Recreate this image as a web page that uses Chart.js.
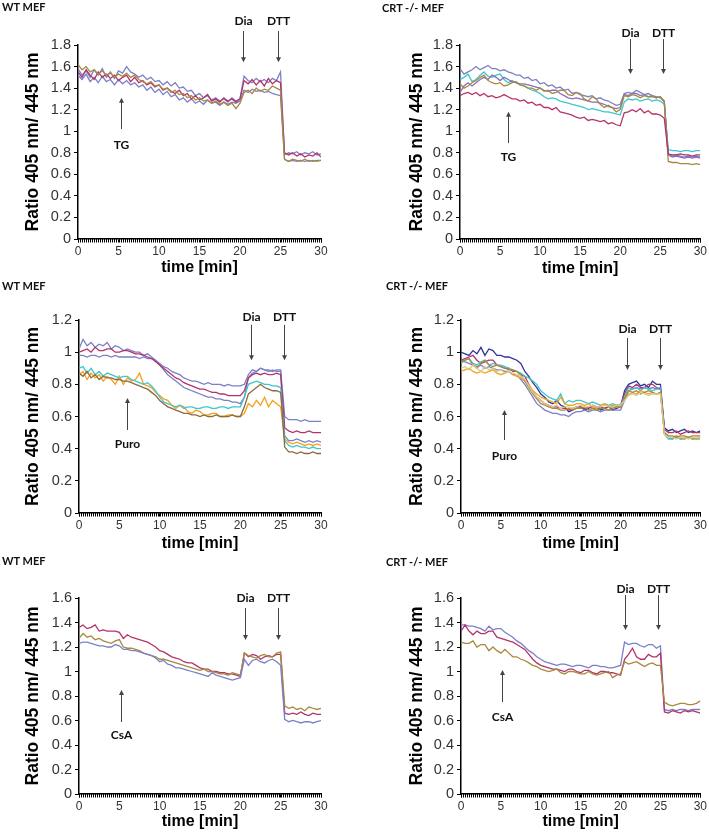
<!DOCTYPE html>
<html><head><meta charset="utf-8">
<script src="https://cdn.jsdelivr.net/npm/chart.js@4.4.1/dist/chart.umd.min.js"></script>
<style>
html,body{margin:0;padding:0;background:#fff}
body{width:709px;height:833px;position:relative;overflow:hidden}
canvas{position:absolute}
.ttl{position:absolute;font:bold 11px Lato,'Open Sans',sans-serif;color:#111;white-space:nowrap;line-height:12px}
</style></head><body>
<script>
// ---- categories (time, min) ----
const times = [0,0.5,1,1.5,2,2.5,3,3.5,4,4.5,5,5.5,6,6.5,7,7.5,8,8.5,9,9.5,10,10.5,11,11.5,12,12.5,13,13.5,14,14.5,15,15.5,16,16.5,17,17.5,18,18.5,19,19.5,20,20.5,21,21.5,22,22.5,23,23.5,24,24.5,25,25.5,26,26.5,27,27.5,28,28.5,29,29.5,30];
const xTickLabels = [0,5,10,15,20,25,30];

// ---- Panel 1: WT MEF, TG ----
const p1_lavA = [1.58,1.52,1.56,1.50,1.57,1.52,1.58,1.50,1.55,1.49,1.56,1.54,1.60,1.55,1.53,1.50,1.52,1.48,1.50,1.46,1.47,1.43,1.46,1.42,1.45,1.40,1.41,1.37,1.38,1.33,1.35,1.31,1.33,1.29,1.31,1.28,1.30,1.27,1.31,1.28,1.30,1.51,1.47,1.45,1.49,1.46,1.48,1.45,1.49,1.47,1.55,0.78,0.80,0.79,0.81,0.78,0.80,0.79,0.81,0.78,0.79];
const p1_lavB = [1.52,1.48,1.53,1.46,1.50,1.45,1.51,1.46,1.48,1.43,1.48,1.44,1.47,1.43,1.45,1.41,1.43,1.38,1.41,1.36,1.39,1.34,1.37,1.32,1.34,1.29,1.31,1.27,1.30,1.26,1.28,1.25,1.29,1.26,1.27,1.24,1.27,1.25,1.27,1.26,1.28,1.38,1.36,1.39,1.37,1.38,1.36,1.37,1.35,1.34,1.33,0.74,0.72,0.73,0.72,0.73,0.72,0.73,0.72,0.73,0.73];
const p1_mag = [1.55,1.50,1.57,1.52,1.48,1.55,1.50,1.53,1.49,1.52,1.47,1.50,1.52,1.46,1.50,1.45,1.47,1.43,1.45,1.41,1.43,1.38,1.40,1.37,1.35,1.38,1.33,1.35,1.30,1.33,1.29,1.31,1.34,1.28,1.30,1.27,1.31,1.28,1.30,1.27,1.30,1.47,1.44,1.48,1.43,1.47,1.42,1.49,1.44,1.47,1.45,0.80,0.78,0.80,0.77,0.79,0.76,0.78,0.77,0.80,0.76];
const p1_olv = [1.62,1.57,1.60,1.55,1.57,1.53,1.56,1.52,1.54,1.50,1.53,1.51,1.54,1.50,1.52,1.48,1.46,1.44,1.46,1.42,1.43,1.39,1.40,1.36,1.38,1.34,1.35,1.31,1.33,1.29,1.31,1.28,1.29,1.26,1.28,1.25,1.27,1.24,1.26,1.21,1.26,1.36,1.38,1.35,1.40,1.37,1.39,1.38,1.42,1.40,1.38,0.74,0.72,0.74,0.73,0.72,0.74,0.72,0.73,0.72,0.73];

// ---- Panel 2: CRT -/- MEF, TG ----
const p2_lav = [1.58,1.53,1.55,1.57,1.60,1.57,1.59,1.61,1.58,1.58,1.56,1.57,1.55,1.54,1.52,1.52,1.49,1.50,1.47,1.48,1.44,1.45,1.42,1.43,1.40,1.41,1.38,1.39,1.35,1.36,1.34,1.33,1.32,1.33,1.30,1.31,1.29,1.28,1.26,1.24,1.25,1.35,1.36,1.35,1.38,1.36,1.34,1.35,1.33,1.32,1.31,1.28,0.78,0.77,0.78,0.77,0.76,0.77,0.76,0.77,0.76];
const p2_cya = [1.48,1.50,1.53,1.46,1.48,1.52,1.55,1.51,1.50,1.52,1.53,1.48,1.45,1.47,1.45,1.43,1.42,1.40,1.38,1.37,1.35,1.32,1.30,1.31,1.30,1.28,1.27,1.26,1.25,1.24,1.23,1.22,1.20,1.21,1.20,1.19,1.18,1.18,1.17,1.16,1.15,1.27,1.30,1.29,1.30,1.28,1.29,1.30,1.28,1.29,1.28,1.25,0.83,0.82,0.82,0.81,0.82,0.82,0.81,0.82,0.82];
const p2_olv = [1.44,1.40,1.42,1.45,1.47,1.50,1.52,1.47,1.45,1.44,1.45,1.42,1.43,1.45,1.46,1.43,1.42,1.40,1.40,1.38,1.40,1.37,1.38,1.35,1.36,1.38,1.38,1.34,1.33,1.36,1.35,1.30,1.28,1.32,1.30,1.25,1.22,1.24,1.22,1.18,1.20,1.33,1.32,1.34,1.33,1.31,1.33,1.32,1.33,1.31,1.32,1.28,0.72,0.71,0.71,0.70,0.70,0.70,0.69,0.70,0.69];
const p2_pur = [1.36,1.42,1.45,1.42,1.45,1.48,1.50,1.48,1.52,1.50,1.47,1.50,1.48,1.46,1.45,1.44,1.44,1.43,1.42,1.41,1.40,1.38,1.37,1.38,1.38,1.35,1.33,1.31,1.30,1.31,1.30,1.29,1.28,1.27,1.27,1.26,1.25,1.23,1.22,1.21,1.22,1.34,1.33,1.35,1.35,1.33,1.34,1.32,1.32,1.31,1.32,1.27,0.78,0.76,0.77,0.76,0.75,0.76,0.75,0.76,0.75];
const p2_mag = [1.33,1.35,1.36,1.34,1.36,1.33,1.35,1.32,1.33,1.31,1.32,1.34,1.32,1.30,1.30,1.28,1.29,1.26,1.27,1.24,1.25,1.22,1.22,1.20,1.22,1.18,1.17,1.16,1.15,1.13,1.12,1.13,1.10,1.11,1.10,1.09,1.10,1.07,1.08,1.06,1.05,1.17,1.18,1.20,1.18,1.21,1.17,1.19,1.16,1.16,1.15,1.12,0.79,0.78,0.78,0.79,0.78,0.78,0.77,0.78,0.78];

// ---- Panel 3: WT MEF, Puro ----
const p3_lav = [0.98,0.98,0.97,0.98,0.98,0.97,0.98,0.98,0.97,0.98,0.97,0.97,0.97,0.97,0.97,0.96,0.97,0.96,0.96,0.95,0.93,0.91,0.90,0.88,0.87,0.86,0.84,0.83,0.82,0.82,0.81,0.80,0.81,0.80,0.80,0.80,0.79,0.80,0.79,0.79,0.79,0.80,0.86,0.89,0.88,0.90,0.89,0.89,0.88,0.89,0.89,0.60,0.58,0.58,0.58,0.57,0.58,0.57,0.57,0.57,0.57];
const p3_pur = [1.02,1.08,1.04,1.06,1.03,1.05,1.04,1.06,1.02,1.04,1.03,1.01,1.02,1.01,1.00,1.00,0.98,0.99,0.97,0.95,0.92,0.89,0.86,0.84,0.82,0.80,0.78,0.77,0.76,0.75,0.74,0.73,0.72,0.72,0.71,0.71,0.70,0.70,0.69,0.69,0.68,0.72,0.84,0.87,0.88,0.90,0.89,0.88,0.89,0.88,0.88,0.48,0.45,0.45,0.46,0.45,0.44,0.45,0.44,0.45,0.44];
const p3_mag = [1.00,1.01,1.02,1.00,1.03,1.01,1.01,1.02,1.02,1.00,1.00,1.01,1.01,1.00,0.99,0.99,0.98,0.97,0.96,0.94,0.92,0.90,0.88,0.86,0.84,0.83,0.81,0.80,0.79,0.78,0.77,0.77,0.76,0.75,0.75,0.74,0.74,0.73,0.73,0.73,0.73,0.76,0.84,0.86,0.87,0.86,0.87,0.86,0.86,0.87,0.86,0.53,0.51,0.50,0.51,0.50,0.50,0.51,0.50,0.50,0.50];
const p3_cya = [0.90,0.91,0.87,0.90,0.86,0.88,0.85,0.87,0.86,0.85,0.84,0.85,0.85,0.83,0.82,0.81,0.80,0.81,0.79,0.76,0.72,0.69,0.68,0.67,0.66,0.67,0.65,0.66,0.66,0.65,0.65,0.66,0.66,0.65,0.65,0.66,0.66,0.65,0.66,0.66,0.66,0.72,0.80,0.81,0.82,0.81,0.80,0.80,0.79,0.79,0.78,0.45,0.42,0.41,0.42,0.41,0.41,0.40,0.41,0.40,0.40];
const p3_brn = [0.87,0.85,0.88,0.84,0.86,0.83,0.85,0.84,0.84,0.83,0.83,0.82,0.82,0.81,0.80,0.79,0.78,0.77,0.75,0.73,0.70,0.68,0.66,0.65,0.64,0.63,0.62,0.62,0.61,0.61,0.60,0.61,0.60,0.60,0.61,0.60,0.60,0.60,0.61,0.60,0.60,0.66,0.74,0.76,0.78,0.80,0.78,0.77,0.76,0.76,0.75,0.41,0.38,0.38,0.37,0.38,0.37,0.37,0.38,0.37,0.37];
const p3_org = [0.86,0.88,0.83,0.87,0.84,0.86,0.82,0.85,0.83,0.80,0.85,0.80,0.84,0.82,0.83,0.87,0.80,0.79,0.78,0.75,0.73,0.71,0.70,0.67,0.65,0.67,0.66,0.63,0.62,0.64,0.63,0.61,0.61,0.62,0.62,0.60,0.60,0.61,0.61,0.60,0.60,0.62,0.68,0.66,0.70,0.67,0.72,0.66,0.70,0.68,0.66,0.46,0.44,0.43,0.44,0.43,0.42,0.43,0.42,0.43,0.42];

// ---- Panel 4: CRT -/- MEF, Puro ----
const p4_nav = [1.00,0.99,0.98,1.01,0.99,1.03,0.98,1.02,1.01,0.98,0.98,0.97,0.97,0.96,0.95,0.93,0.88,0.85,0.81,0.78,0.74,0.72,0.69,0.68,0.70,0.67,0.66,0.63,0.64,0.66,0.66,0.64,0.65,0.67,0.66,0.64,0.65,0.66,0.64,0.65,0.66,0.76,0.80,0.81,0.82,0.79,0.80,0.78,0.82,0.80,0.80,0.53,0.51,0.52,0.50,0.51,0.52,0.50,0.51,0.50,0.51];
const p4_lav = [0.95,0.94,0.93,0.92,0.91,0.92,0.90,0.91,0.90,0.89,0.89,0.88,0.88,0.86,0.86,0.83,0.80,0.76,0.72,0.68,0.66,0.64,0.63,0.62,0.62,0.61,0.61,0.60,0.62,0.63,0.63,0.64,0.63,0.64,0.64,0.63,0.64,0.64,0.64,0.64,0.64,0.70,0.76,0.77,0.78,0.77,0.78,0.77,0.78,0.77,0.78,0.50,0.47,0.46,0.48,0.46,0.47,0.47,0.46,0.47,0.47];
const p4_cya = [0.93,0.95,0.96,0.93,0.92,0.94,0.95,0.92,0.93,0.92,0.92,0.91,0.90,0.89,0.88,0.87,0.85,0.84,0.82,0.80,0.76,0.74,0.72,0.71,0.70,0.74,0.68,0.70,0.69,0.70,0.70,0.69,0.68,0.69,0.68,0.67,0.68,0.67,0.68,0.67,0.67,0.72,0.78,0.77,0.78,0.76,0.78,0.77,0.76,0.77,0.77,0.49,0.46,0.46,0.47,0.46,0.46,0.47,0.46,0.46,0.46];
const p4_org = [0.88,0.89,0.90,0.88,0.87,0.88,0.87,0.88,0.89,0.87,0.86,0.87,0.88,0.86,0.85,0.84,0.82,0.80,0.76,0.74,0.72,0.71,0.70,0.69,0.68,0.72,0.68,0.67,0.67,0.68,0.68,0.67,0.68,0.66,0.65,0.67,0.68,0.66,0.67,0.66,0.66,0.70,0.74,0.75,0.74,0.76,0.75,0.74,0.75,0.74,0.75,0.49,0.47,0.47,0.48,0.47,0.46,0.47,0.47,0.46,0.47];
const p4_mag = [0.95,0.96,0.97,0.98,0.95,0.93,0.94,0.95,0.95,0.92,0.91,0.90,0.90,0.88,0.88,0.86,0.85,0.80,0.75,0.72,0.70,0.68,0.67,0.66,0.66,0.65,0.65,0.64,0.65,0.66,0.66,0.65,0.66,0.65,0.65,0.66,0.65,0.66,0.66,0.67,0.67,0.74,0.79,0.78,0.80,0.78,0.78,0.80,0.80,0.78,0.77,0.52,0.50,0.50,0.51,0.49,0.50,0.51,0.50,0.50,0.50];
const p4_olv = [0.94,0.95,0.96,0.92,0.90,0.93,0.95,0.92,0.91,0.92,0.91,0.90,0.89,0.89,0.88,0.86,0.82,0.78,0.74,0.71,0.68,0.67,0.66,0.65,0.65,0.64,0.64,0.65,0.64,0.65,0.65,0.66,0.64,0.65,0.64,0.65,0.65,0.64,0.65,0.66,0.66,0.71,0.76,0.75,0.76,0.74,0.75,0.76,0.75,0.74,0.75,0.50,0.48,0.48,0.47,0.48,0.48,0.47,0.48,0.48,0.48];
const p4_yel = [0.90,0.91,0.89,0.92,0.90,0.88,0.91,0.89,0.90,0.88,0.89,0.87,0.88,0.87,0.86,0.85,0.83,0.79,0.75,0.72,0.70,0.68,0.67,0.66,0.67,0.65,0.66,0.66,0.65,0.66,0.67,0.66,0.66,0.67,0.66,0.66,0.67,0.66,0.66,0.67,0.67,0.70,0.73,0.74,0.73,0.75,0.74,0.73,0.74,0.74,0.74,0.49,0.47,0.47,0.46,0.47,0.47,0.46,0.47,0.47,0.47];

// ---- Panel 5: WT MEF, CsA ----
const p5_mag = [1.36,1.38,1.35,1.36,1.38,1.33,1.34,1.33,1.33,1.33,1.32,1.27,1.30,1.28,1.27,1.26,1.25,1.24,1.22,1.20,1.17,1.16,1.14,1.12,1.11,1.10,1.08,1.07,1.07,1.05,1.03,1.02,1.02,1.00,1.00,0.99,0.99,0.98,0.98,0.97,0.96,1.15,1.12,1.14,1.13,1.10,1.12,1.13,1.12,1.14,1.14,0.66,0.65,0.66,0.65,0.67,0.65,0.64,0.66,0.65,0.65];
const p5_olv = [1.27,1.31,1.28,1.29,1.26,1.27,1.25,1.24,1.23,1.25,1.26,1.20,1.19,1.19,1.18,1.17,1.15,1.14,1.13,1.12,1.10,1.10,1.09,1.08,1.07,1.06,1.05,1.04,1.03,1.02,1.01,1.02,1.00,1.00,0.99,0.98,0.98,0.97,0.99,0.98,0.97,1.15,1.13,1.12,1.11,1.13,1.14,1.12,1.12,1.15,1.16,0.72,0.70,0.71,0.69,0.70,0.68,0.71,0.70,0.69,0.70];
const p5_lav = [1.23,1.24,1.24,1.23,1.22,1.21,1.21,1.20,1.20,1.22,1.21,1.18,1.18,1.17,1.17,1.16,1.15,1.14,1.13,1.11,1.08,1.09,1.06,1.05,1.03,1.03,1.02,1.01,1.00,0.99,0.98,0.97,0.96,0.99,0.97,0.96,0.95,0.94,0.93,0.94,0.95,1.10,1.05,1.09,1.10,1.08,1.07,1.09,1.10,1.08,1.05,0.61,0.59,0.60,0.59,0.58,0.59,0.59,0.58,0.59,0.60];

// ---- Panel 6: CRT -/- MEF, CsA ----
const p6_lav = [1.38,1.38,1.37,1.37,1.36,1.35,1.33,1.37,1.34,1.35,1.35,1.32,1.30,1.28,1.25,1.23,1.20,1.17,1.15,1.12,1.10,1.08,1.07,1.06,1.05,1.06,1.06,1.05,1.04,1.05,1.05,1.04,1.03,1.05,1.05,1.04,1.04,1.03,1.03,1.04,1.05,1.24,1.22,1.23,1.23,1.21,1.20,1.22,1.22,1.19,1.21,0.69,0.68,0.69,0.68,0.69,0.69,0.68,0.69,0.69,0.69];
const p6_mag = [1.33,1.38,1.33,1.30,1.33,1.31,1.31,1.33,1.33,1.28,1.27,1.26,1.25,1.24,1.22,1.20,1.18,1.14,1.10,1.07,1.05,1.04,1.03,1.02,1.02,1.01,1.00,1.02,1.02,1.00,0.99,1.01,1.01,0.99,0.98,1.00,1.00,0.99,0.99,0.98,0.97,1.10,1.14,1.19,1.12,1.10,1.10,1.14,1.12,1.12,1.15,0.67,0.66,0.68,0.67,0.66,0.68,0.67,0.68,0.67,0.66];
const p6_olv = [1.24,1.23,1.23,1.25,1.20,1.22,1.22,1.17,1.20,1.17,1.15,1.18,1.15,1.12,1.12,1.10,1.09,1.07,1.05,1.04,1.02,1.01,1.00,1.01,1.02,0.99,0.98,1.00,1.00,0.99,0.98,0.98,1.00,0.98,0.97,0.98,0.99,1.00,0.95,0.97,0.98,1.08,1.06,1.07,1.08,1.06,1.04,1.06,1.07,1.05,1.05,0.75,0.73,0.72,0.73,0.74,0.74,0.73,0.73,0.74,0.76];

// ---- annotation texts / positions in data units (min, ratio) ----
const p1Marks = [{text:'Dia',x:20.4,label:2.02,from:1.93,to:1.64},{text:'DTT',x:24.7,label:2.02,from:1.93,to:1.64},{text:'TG',x:5.3,label:0.87,from:1.02,to:1.31}];
const p2Marks = [{text:'Dia',x:21.25,label:1.91,from:1.855,to:1.53},{text:'DTT',x:25.4,label:1.91,from:1.855,to:1.53},{text:'TG',x:5.95,label:0.76,from:0.89,to:1.18}];
const p3Marks = [{text:'Dia',x:21.3,label:1.216,from:1.17,to:0.95},{text:'DTT',x:25.4,label:1.216,from:1.17,to:0.95},{text:'Puro',x:5.95,label:0.43,from:0.516,to:0.715}];
const p4Marks = [{text:'Dia',x:20.8,label:1.144,from:1.088,to:0.889},{text:'DTT',x:24.9,label:1.144,from:1.088,to:0.889},{text:'Puro',x:5.35,label:0.354,from:0.454,to:0.64}];
const p5Marks = [{text:'Dia',x:20.6,label:1.596,from:1.518,to:1.257},{text:'DTT',x:24.7,label:1.596,from:1.518,to:1.257},{text:'CsA',x:5.2,label:0.478,from:0.588,to:0.849}];
const p6Marks = [{text:'Dia',x:20.5,label:1.673,from:1.624,to:1.339},{text:'DTT',x:24.65,label:1.673,from:1.624,to:1.339},{text:'CsA',x:5.1,label:0.624,from:0.751,to:1.012}];

const C = {lav:'#7c80c6', mag:'#b4336c', olv:'#a88a3e', cya:'#3fc6cc', org:'#f4a11f', nav:'#2f349c', brn:'#8c6a3c', yel:'#d9cb8e', pur:'#8a6fb8'};

const panels = [
 {ox:0,oy:0,w:354,h:280,area:{l:78,t:45,r:321,b:239},yMax:1.8,yTitleX:33,xTitleY:268,title:'WT MEF',tpos:[2,1],marks:p1Marks,
  series:[[p1_olv,C.olv],[p1_mag,C.mag],[p1_lavB,C.lav],[p1_lavA,C.lav]]},
 {ox:354,oy:0,w:355,h:280,area:{l:460,t:45,r:702,b:239},yMax:1.8,yTitleX:417,xTitleY:269,title:'CRT -/- MEF',tpos:[382,2],marks:p2Marks,
  series:[[p2_mag,C.mag],[p2_olv,C.olv],[p2_pur,C.pur],[p2_cya,C.cya],[p2_lav,C.lav]]},
 {ox:0,oy:280,w:354,h:275,area:{l:79,t:320,r:321,b:513},yMax:1.2,yTitleX:33,xTitleY:544,title:'WT MEF',tpos:[2,280],marks:p3Marks,
  series:[[p3_brn,C.brn],[p3_cya,C.cya],[p3_org,C.org],[p3_mag,C.mag],[p3_pur,C.lav],[p3_lav,C.lav]]},
 {ox:354,oy:280,w:355,h:275,area:{l:461,t:320,r:702,b:513},yMax:1.2,yTitleX:417,xTitleY:544,title:'CRT -/- MEF',tpos:[386,280],marks:p4Marks,
  series:[[p4_yel,C.yel],[p4_olv,C.olv],[p4_org,C.org],[p4_cya,C.cya],[p4_mag,C.mag],[p4_lav,C.lav],[p4_nav,C.nav]]},
 {ox:0,oy:555,w:354,h:278,area:{l:79,t:598,r:321,b:794},yMax:1.6,yTitleX:33,xTitleY:822,title:'WT MEF',tpos:[2,555],marks:p5Marks,
  series:[[p5_lav,C.lav],[p5_olv,C.olv],[p5_mag,C.mag]]},
 {ox:354,oy:555,w:355,h:278,area:{l:461,t:598,r:702,b:794},yMax:1.6,yTitleX:417,xTitleY:822,title:'CRT -/- MEF',tpos:[386,556],marks:p6Marks,
  series:[[p6_olv,C.olv],[p6_mag,C.mag],[p6_lav,C.lav]]}
];

const FONT = "'Liberation Sans', Arial, sans-serif";
const YT = 17.5, XT = 16;

const minorTicks = {
  id:'minorTicks',
  afterDraw(chart){
    const xs = chart.scales.x, ctx = chart.ctx, b = chart.chartArea.bottom;
    ctx.save(); ctx.strokeStyle = '#000'; ctx.lineWidth = 1; ctx.beginPath();
    for (let i = 0; i <= 120; i++) {
      const px = Math.round(xs.getPixelForValue(i * 0.25)) + 0.5;
      ctx.moveTo(px, b); ctx.lineTo(px, b + 3.5);
    }
    ctx.stroke(); ctx.restore();
  }
};
const annots = {
  id:'annots',
  afterDraw(chart, args, opts){
    const xs = chart.scales.x, ys = chart.scales.y, ctx = chart.ctx;
    ctx.save();
    (opts.marks || []).forEach(m => {
      const px = Math.round(xs.getPixelForValue(m.x)) + 0.5;
      const y1 = ys.getPixelForValue(m.from), y2 = ys.getPixelForValue(m.to);
      const dir = y2 > y1 ? 1 : -1;
      ctx.strokeStyle = '#444'; ctx.fillStyle = '#444'; ctx.lineWidth = 1;
      ctx.beginPath(); ctx.moveTo(px, y1); ctx.lineTo(px, y2 - dir * 3); ctx.stroke();
      ctx.beginPath(); ctx.moveTo(px, y2); ctx.lineTo(px - 2.5, y2 - dir * 5); ctx.lineTo(px + 2.5, y2 - dir * 5); ctx.closePath(); ctx.fill();
      ctx.fillStyle = '#111'; ctx.font = "bold 12px Lato, 'Open Sans', sans-serif";
      ctx.textAlign = 'center'; ctx.textBaseline = 'middle';
      ctx.fillText(m.text, px, ys.getPixelForValue(m.label));
    });
    ctx.restore();
  }
};

panels.forEach(p => {
  const cv = document.createElement('canvas');
  cv.width = p.w; cv.height = p.h;
  cv.style.left = p.ox + 'px'; cv.style.top = p.oy + 'px';
  cv.style.width = p.w + 'px'; cv.style.height = p.h + 'px';
  document.body.appendChild(cv);
  const t = document.createElement('div');
  t.className = 'ttl'; t.textContent = p.title;
  t.style.left = p.tpos[0] + 'px'; t.style.top = p.tpos[1] + 'px';
  document.body.appendChild(t);

  const yW = p.area.l - p.ox;
  const xH = p.oy + p.h - p.area.b;
  const yTitlePad = (p.yTitleX - p.ox) - YT * 1.2 / 2;
  const xTitlePad = Math.max(0, (p.oy + p.h - p.xTitleY) - XT * 1.2 / 2);

  new Chart(cv, {
    type:'line',
    data:{ datasets: p.series.map(([arr, col]) => ({
      data: times.map((tm, i) => ({x: tm, y: arr[i]})),
      borderColor: col, borderWidth: 1.3, pointRadius: 0, tension: 0, fill: false
    })) },
    options:{
      responsive:false, animation:false, devicePixelRatio:1,
      layout:{ padding:{ left:0, top:p.area.t - p.oy, right:p.ox + p.w - p.area.r, bottom:0 } },
      plugins:{ legend:{display:false}, tooltip:{enabled:false}, annots:{marks:p.marks} },
      scales:{
        x:{ type:'linear', min:0, max:30,
            afterFit: s => { s.height = xH; },
            border:{display:true, color:'#000', width:1.5},
            grid:{drawOnChartArea:false, drawTicks:true, tickLength:3.5, color:'#000'},
            ticks:{stepSize:5, autoSkip:false, maxRotation:0, padding:2, color:'#333', font:{family:FONT, size:12},
                   callback: v => xTickLabels.includes(v) ? String(v) : ''},
            title:{display:true, text:'time [min]', color:'#000', font:{family:FONT, size:XT, weight:'bold'}, padding:{top:0, bottom:xTitlePad}} },
        y:{ type:'linear', min:0, max:p.yMax,
            afterFit: s => { s.width = yW; },
            border:{display:true, color:'#000', width:1.5},
            grid:{drawOnChartArea:false, drawTicks:true, tickLength:4, color:'#000'},
            ticks:{stepSize:0.2, padding:3, color:'#333', font:{family:FONT, size:14.5},
                   callback: v => String(Math.round(v * 10) / 10)},
            title:{display:true, text:'Ratio 405 nm/ 445 nm', color:'#000', font:{family:FONT, size:YT, weight:'bold'}, padding:{top:yTitlePad, bottom:0}} }
      }
    },
    plugins:[minorTicks, annots]
  });
});
</script>
</body></html>
